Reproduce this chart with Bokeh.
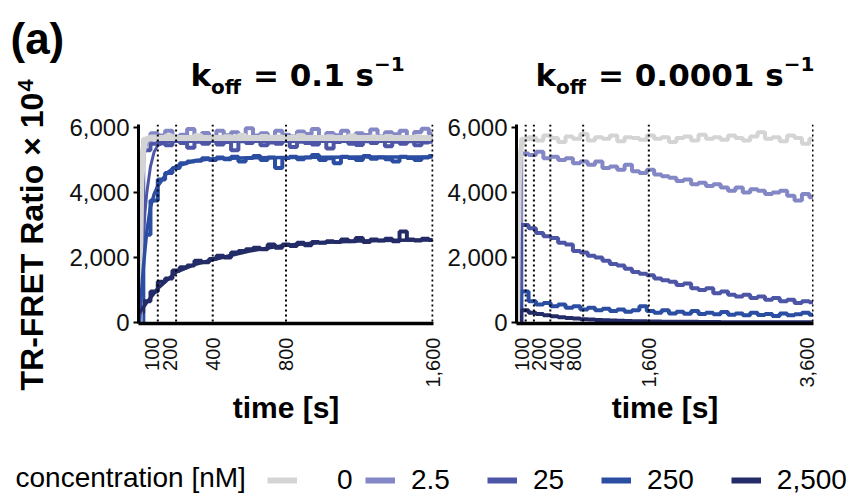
import math
from bokeh.plotting import figure
from bokeh.models import Range1d, FixedTicker, NumeralTickFormatter, Span, Legend, LegendItem
from bokeh.layouts import column, row
from bokeh.embed import file_html
from bokeh.resources import INLINE
from bokeh.core.properties import value

# ---------------- data ----------------
concentration_labels = ["0", "2.5", "25", "250", "2,500"]
series_colors = ["#d4d4d4", "#8387c5", "#4d55a6", "#2b4ea2", "#242c68"]

y_ticks = [0, 2000, 4000, 6000]
x_ticks_left = [100, 200, 400, 800, 1600]
x_ticks_right = [100, 200, 400, 800, 1600, 3600]

# left panel (k_off = 0.1 s^-1): raw traces sampled every 40 s
t_left = list(range(0, 1601, 40))
left_0 = [0, 5650, 5720, 5680, 5750, 5690, 5640, 5710, 5760, 5680, 5700, 5650, 5730, 5690,
          5770, 5660, 5700, 5740, 5680, 5720, 5650, 5700, 5760, 5690, 5710, 5640, 5730, 5700,
          5680, 5750, 5700, 5660, 5720, 5690, 5740, 5680, 5710, 5650, 5730, 5700, 5690]
left_2_5 = [0, 5600, 5820, 5750, 5900, 5700, 5780, 5950, 5720, 5830, 5680, 5900, 5760, 5850,
            5700, 5980, 5750, 5820, 5650, 5900, 5780, 5720, 5880, 5800, 5950, 5700, 5830, 5760,
            5900, 5680, 5820, 5770, 5940, 5720, 5850, 5790, 5900, 5700, 5860, 5960, 5800]
left_25 = [0, 5300, 5500, 5580, 5450, 5600, 5520, 5380, 5560, 5500, 5620, 5480, 5550, 5300,
           5580, 5520, 5600, 5450, 5540, 5500, 5620, 5400, 5560, 5520, 5480, 5590, 5350, 5550,
           5600, 5500, 5460, 5580, 5520, 5620, 5420, 5560, 5500, 5580, 5450, 5540, 5560]
left_250 = [0, 2700, 3750, 4400, 4600, 4750, 4900, 4950, 4980, 5050, 5000, 5080, 5020, 5100,
            4950, 5060, 5120, 5000, 5080, 4750, 5060, 5100, 5020, 5080, 5150, 5000, 5050, 4900,
            5100, 5060, 5000, 5120, 5040, 5080, 5020, 4950, 5100, 5060, 5000, 5080, 5120]
left_2500 = [300, 650, 950, 1250, 1350, 1600, 1700, 1750, 1900, 1850, 1950, 2050, 2000, 2150,
             2200, 2250, 2300, 2250, 2400, 2300, 2400, 2350, 2450, 2380, 2480, 2450, 2500, 2480,
             2550, 2500, 2600, 2480, 2550, 2520, 2580, 2500, 2800, 2550, 2520, 2580, 2540]

# left panel fitted curves
fit_t_left = [0, 5, 10, 20, 30, 40, 60, 80, 100, 150, 200, 300, 400, 600, 800, 1000, 1200, 1400, 1600]
fit_left_0 = [0, 2600, 4300, 5300, 5550, 5640, 5670, 5680, 5680, 5680, 5680, 5680, 5680, 5680,
              5680, 5680, 5680, 5680, 5680]
fit_left_2_5 = [0, 2000, 3500, 4800, 5300, 5500, 5600, 5620, 5630, 5630, 5630, 5630, 5630, 5630,
                5630, 5630, 5630, 5630, 5630]
fit_left_25 = [0, 700, 1400, 2500, 3400, 4000, 4800, 5250, 5450, 5550, 5570, 5570, 5570, 5570,
               5570, 5570, 5570, 5570, 5570]
fit_left_250 = [0, 450, 850, 1600, 2250, 2800, 3550, 3950, 4200, 4600, 4800, 4980, 5040, 5070,
                5080, 5085, 5090, 5090, 5090]
fit_left_2500 = [300, 340, 380, 460, 540, 620, 760, 900, 1050, 1300, 1550, 1780, 1930, 2200,
                 2380, 2460, 2510, 2530, 2540]

# right panel (k_off = 0.0001 s^-1): raw traces sampled every 90 s
t_right = list(range(0, 3601, 90))
right_0 = [0, 5650, 5700, 5600, 5750, 5680, 5550, 5720, 5650, 5800, 5600, 5700, 5650, 5750,
           5580, 5700, 5680, 5620, 5750, 5650, 5700, 5550, 5680, 5720, 5600, 5780, 5650, 5700,
           5620, 5750, 5680, 5600, 5720, 5850, 5650, 5700, 5580, 5750, 5680, 5500, 5650]
right_2_5 = [0, 5200, 5150, 5250, 5050, 5100, 5000, 5050, 4900, 4950, 4850, 4950, 4750, 4800,
             4700, 4850, 4650, 4600, 4700, 4550, 4500, 4450, 4350, 4400, 4250, 4300, 4200, 4250,
             4150, 4050, 4150, 4000, 4100, 4050, 3950, 4000, 4050, 3900, 3750, 3950, 3850]
right_25 = [0, 3000, 2900, 2750, 2650, 2600, 2450, 2400, 2200, 2150, 2050, 2000, 1900, 1800,
            1750, 1650, 1550, 1500, 1450, 1350, 1300, 1250, 1150, 1200, 1050, 1000, 1050, 900,
            950, 850, 800, 850, 750, 800, 700, 750, 650, 700, 600, 650, 620]
right_250 = [0, 950, 650, 550, 600, 500, 550, 450, 500, 400, 450, 380, 420, 350, 400, 330, 380,
             500, 350, 300, 380, 280, 330, 270, 350, 260, 300, 250, 320, 240, 280, 220, 300, 230,
             260, 200, 280, 220, 250, 300, 240]
right_2500 = [0, 380, 300, 260, 220, 190, 160, 140, 120, 100, 90, 80, 70, 60, 50, 45, 40, 35, 30,
              30, 25, 25, 20, 20, 20, 15, 15, 15, 10, 10, 10, 10, 10, 5, 5, 5, 5, 5, 5, 5, 5]

fit_t_right = [0, 10, 20, 40, 60, 100, 200]
fit_right_0 = [0, 2500, 4200, 5300, 5550, 5650, 5650]

# ---------------- layout constants (pixels) ----------------
STRIP_W = 66          # left strip with "(a)" and the y-axis title
HEAD_H = 100          # header with the two panel titles
TOTAL_H = 440
PANEL_H = TOTAL_H - HEAD_H
TOP = 24
BOTTOM = 117
Y0, Y1 = -31, 6092
L_W, L_BL, L_BR = 444 - STRIP_W, 135 - STRIP_W, 11
R_W, R_BL, R_BR = 410, 69, 41
LX0, LX1 = -5.4, 1605.4
RX0, RX1 = -12, 3606

AX_FONT = "Liberation Sans"
MID_LIB = 0.347   # baseline -> middle offset (em) for Liberation Sans
MID_DJV = 0.346   # same for DejaVu Sans


def make_panel(width, bl, br, x0, x1, ticks, label_shift_px):
    p = figure(width=width, height=PANEL_H, x_range=Range1d(x0, x1), y_range=Range1d(Y0, Y1),
               min_border_left=bl, min_border_right=br, min_border_top=TOP,
               min_border_bottom=BOTTOM, output_backend="svg", toolbar_location=None,
               title=None)
    p.outline_line_color = None
    p.grid.visible = False
    # y axis
    p.yaxis.ticker = FixedTicker(ticks=y_ticks)
    p.yaxis.formatter = NumeralTickFormatter(format="0,0")
    p.yaxis.major_label_text_font = AX_FONT
    p.yaxis.major_label_text_font_size = "24px"
    p.yaxis.major_label_text_color = "#111111"
    p.yaxis.axis_line_width = 3
    p.yaxis.axis_line_color = "black"
    p.yaxis.major_tick_out = 5
    p.yaxis.major_tick_in = 0
    p.yaxis.major_tick_line_width = 2
    p.yaxis.minor_tick_line_color = None
    p.yaxis.major_label_standoff = 4
    # x axis: labels slightly nudged (as in the original) to avoid overlaps
    scale = (x1 - x0) / (width - bl - br)
    pos = [round(t + s * scale) for t, s in zip(ticks, label_shift_px)]
    p.xaxis.ticker = FixedTicker(ticks=pos)
    p.xaxis.major_label_overrides = {q: "{:,}".format(t) for q, t in zip(pos, ticks)}
    p.xaxis.major_label_orientation = math.pi / 2
    p.xaxis.major_label_text_font = AX_FONT
    p.xaxis.major_label_text_font_size = "20px"
    p.xaxis.major_label_text_color = "#111111"
    p.xaxis.major_label_standoff = 8
    p.xaxis.major_tick_line_color = None
    p.xaxis.minor_tick_line_color = None
    p.xaxis.axis_line_width = 3.5
    p.xaxis.axis_line_color = "black"
    p.xaxis.axis_label = "time [s]"
    p.xaxis.axis_label_text_font = AX_FONT
    p.xaxis.axis_label_text_font_style = "bold"
    p.xaxis.axis_label_text_font_size = "30px"
    p.xaxis.axis_label_text_color = "black"
    p.xaxis.axis_label_standoff = 0
    for t in ticks:
        p.add_layout(Span(location=t, dimension="height", line_color="black",
                          line_dash="2 3", line_width=2))
    return p


def text_canvas(width, height):
    f = figure(width=width, height=height, x_range=Range1d(0, width), y_range=Range1d(0, height),
               min_border=0, toolbar_location=None, output_backend="svg", title=None,
               x_axis_location=None, y_axis_location=None)
    f.outline_line_color = None
    f.grid.visible = False
    return f


c0, c1, c2, c3, c4 = series_colors
LW = 4

# ---------------- left panel ----------------
pl = make_panel(L_W, L_BL, L_BR, LX0, LX1, x_ticks_left, [-6, -6, 0, 0, 0])
pl.step(t_left, left_2_5, mode="center", line_color=c1, line_width=LW)
pl.step(t_left, left_0, mode="center", line_color=c0, line_width=LW)
pl.step(t_left, left_25, mode="center", line_color=c2, line_width=LW)
pl.step(t_left, left_250, mode="center", line_color=c3, line_width=LW)
pl.step(t_left, left_2500, mode="center", line_color=c4, line_width=LW)
pl.line(fit_t_left, fit_left_2_5, line_color=c1, line_width=3)
pl.line(fit_t_left, fit_left_25, line_color=c2, line_width=3)
pl.line(fit_t_left, fit_left_0, line_color=c0, line_width=6)
pl.line(fit_t_left, fit_left_250, line_color=c3, line_width=3.5)
pl.line(fit_t_left, fit_left_2500, line_color=c4, line_width=3.5)

# ---------------- right panel ----------------
pr = make_panel(R_W, R_BL, R_BR, RX0, RX1, x_ticks_right, [-4, 5, 7, -9, 0, -6])
pr.step(t_right, right_0, mode="center", line_color=c0, line_width=LW)
pr.step(t_right, right_2_5, mode="center", line_color=c1, line_width=LW)
pr.step(t_right, right_25, mode="center", line_color=c2, line_width=LW)
pr.step(t_right, right_250, mode="center", line_color=c3, line_width=LW)
pr.step(t_right, right_2500, mode="center", line_color=c4, line_width=LW)
pr.line(fit_t_right, fit_right_0, line_color=c0, line_width=5)

# ---------------- header with titles (k_off, subscript / superscript) ----------------
head = text_canvas(854 - STRIP_W, HEAD_H)
TF = "DejaVu Sans"
MAIN, SMALL = 31, 20
W = {"k": 0.664, "o": 0.687, "f": 0.435, " ": 0.348, "=": 0.838, "0": 0.696, "1": 0.696,
     ".": 0.381, "s": 0.595, "\u2212": 0.838}


def twidth(txt, size):
    return sum(W.get(ch, 0.6) for ch in txt) * size


def add_title(start_px, number, baseline=85):
    parts = [("k", MAIN, 0), ("off", SMALL, 8), (None, MAIN, 0),
             ("= " + number + " s", MAIN, 0), ("\u22121", SMALL, -15)]
    x = start_px
    for txt, size, dy in parts:
        if txt is None:
            x += W[" "] * size
            continue
        py = baseline + dy - MID_DJV * size
        head.text(x=[x - STRIP_W], y=[HEAD_H - py], text=[txt],
                  text_font=value(TF), text_font_style="bold",
                  text_font_size=value(f"{size}px"), text_color="black",
                  text_align="left", text_baseline="middle")
        x += twidth(txt, size)


add_title(190, "0.1")
add_title(535, "0.0001")

# ---------------- left strip: panel tag and y-axis title ----------------
strip = text_canvas(STRIP_W, TOTAL_H)
strip.text(x=[10], y=[TOTAL_H - (53 - MID_LIB * 44)], text=["(a)"], text_font=value(AX_FONT),
           text_font_style="bold", text_font_size=value("44px"), text_color="black",
           text_align="left", text_baseline="middle")
strip.text(x=[43 - MID_LIB * 32], y=[TOTAL_H - 390], text=["TR-FRET Ratio \u00d7 10"],
           angle=math.pi / 2, text_font=value(AX_FONT), text_font_style="bold",
           text_font_size=value("32px"), text_color="black", text_align="left",
           text_baseline="middle")
strip.text(x=[33 - MID_LIB * 22], y=[TOTAL_H - 91], text=["4"], angle=math.pi / 2,
           text_font=value(AX_FONT), text_font_style="bold", text_font_size=value("22px"),
           text_color="black", text_align="left", text_baseline="middle")

# ---------------- legend strip ----------------
LG_H = 54
lg = text_canvas(854, LG_H)
nan = float("nan")
rends = [lg.line(x=[nan, nan], y=[nan, nan], line_color=c, line_width=6) for c in series_colors]
lg.text(x=[15], y=[494 - (487 - MID_LIB * 28)], text=["concentration [nM]"],
        text_font=value(AX_FONT), text_font_size=value("28px"), text_color="black",
        text_align="left", text_baseline="middle")
common = dict(orientation="horizontal", glyph_width=30, glyph_height=20, padding=0, margin=0,
              border_line_color=None, background_fill_alpha=0, label_text_font=AX_FONT,
              label_text_font_size="28px", label_text_color="black")
leg_a = Legend(items=[LegendItem(label=concentration_labels[0], renderers=[rends[0]])],
               location=(267, -2), label_standoff=40, **common)
leg_b = Legend(items=[LegendItem(label=l, renderers=[r])
                      for l, r in zip(concentration_labels[1:], rends[1:])],
               location=(365, -2), label_standoff=16, spacing=37, **common)
lg.add_layout(leg_a)
lg.add_layout(leg_b)

layout = column(row(strip, column(head, row(pl, pr))), lg)
open("out.html", "w").write(file_html(layout, INLINE))
